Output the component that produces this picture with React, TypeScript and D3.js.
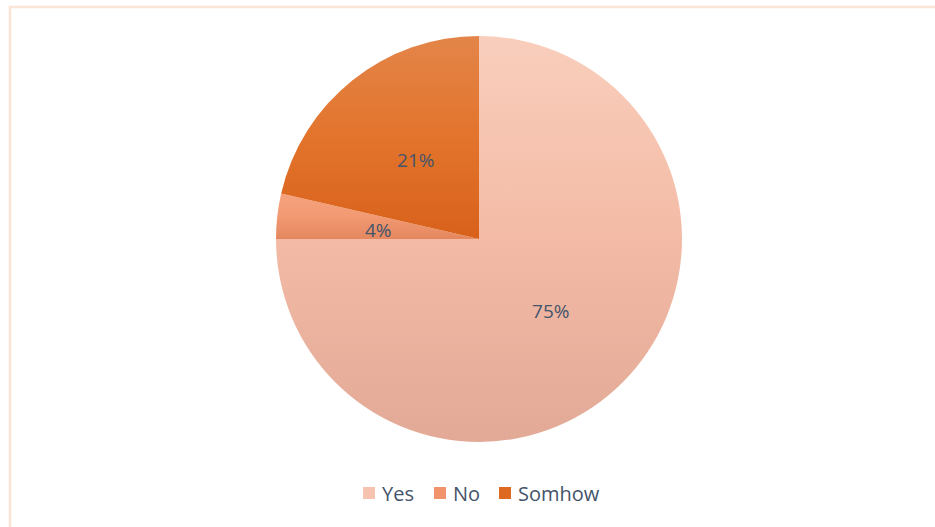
import React from "react";
import * as d3 from "d3";

const categories = ["Yes", "No", "Somhow"];
const values = [75, 3.6, 21.4];
const labels = ["75%", "4%", "21%"];
const gradTop = ["#f9cebc", "#f5a27e", "#e38549"];
const gradMid = ["#f3bba6", "#f29a73", "#e3742c"];
const gradBottom = ["#e2aa96", "#e4875f", "#d8611a"];
const swatch = ["#f6c3b0", "#f1946b", "#de6a22"];

export default function App() {
  const W = 935, H = 527;
  const cx = 479, cy = 239, r = 203;
  const pie = d3.pie<number>().sort(null).value((d) => d)(values);
  const arc = d3.arc<d3.PieArcDatum<number>>().innerRadius(0).outerRadius(r);
  const font = "'Open Sans', 'Noto Sans', sans-serif";
  const legendX = [363, 434, 499];
  return (
    <svg width={W} height={H} style={{ position: "absolute", left: 0, top: 0 }}>
      <defs>
        {categories.map((c, i) => (
          <linearGradient key={c} id={`g${i}`} x1="0" y1="0" x2="0" y2="1">
            <stop offset="0" stopColor={gradTop[i]} />
            <stop offset="0.5" stopColor={gradMid[i]} />
            <stop offset="1" stopColor={gradBottom[i]} />
          </linearGradient>
        ))}
      </defs>
      <rect x={0} y={0} width={W} height={H} fill="#fff" />
      <rect x={10} y={7} width={W + 20} height={H + 20} fill="none" stroke="#fce4d6" strokeWidth={2.5} />
      <g transform={`translate(${cx},${cy})`}>
        {pie.map((p, i) => (
          <path key={i} d={arc(p) || ""} fill={`url(#g${i})`} />
        ))}
        {pie.map((p, i) => {
          const [x, y] = arc.centroid(p);
          return (
            <text key={i} x={x} y={y + (i === 1 ? 2 : 0)} textAnchor="middle" dominantBaseline="central"
              fontFamily={font} fontSize={19} fill="#44546a">
              {labels[i]}
            </text>
          );
        })}
      </g>
      {categories.map((c, i) => (
        <g key={c}>
          <rect x={legendX[i]} y={487} width={12} height={12} fill={swatch[i]} />
          <text x={legendX[i] + 19} y={493} dominantBaseline="central" fontFamily={font} fontSize={20} fill="#44546a">
            {c}
          </text>
        </g>
      ))}
    </svg>
  );
}
